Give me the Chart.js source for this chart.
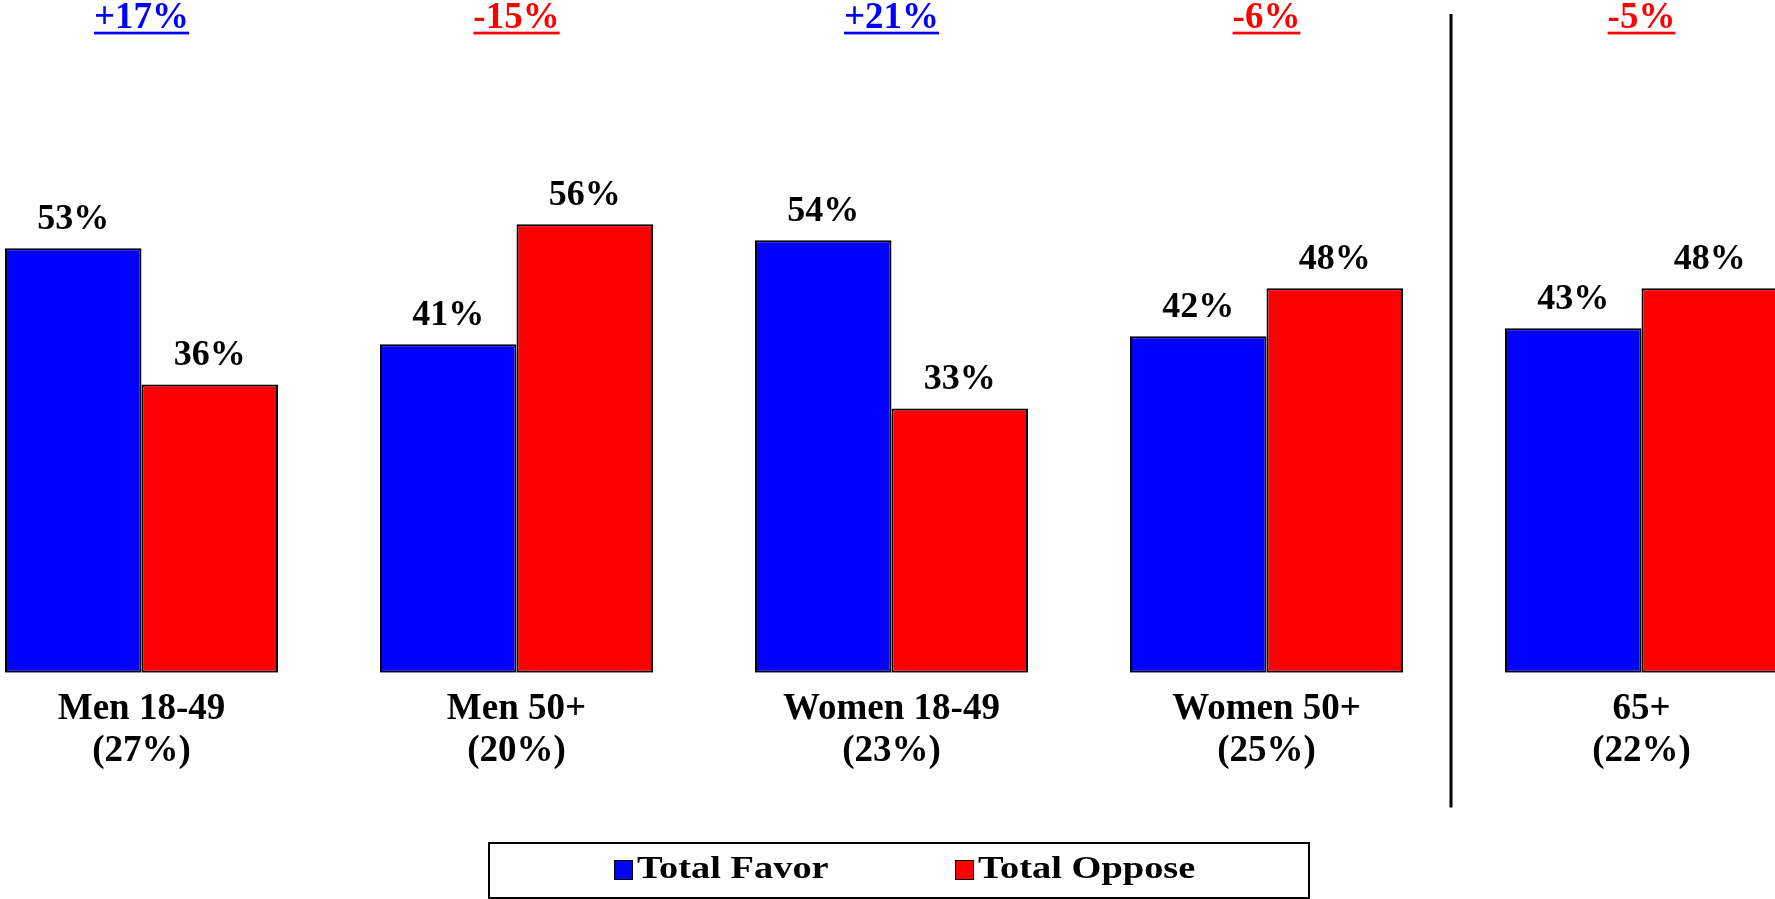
<!DOCTYPE html>
<html lang="en">

<head>
    <meta charset="UTF-8">
    <title>Total Favor vs Total Oppose</title>
    <script src="https://cdn.jsdelivr.net/npm/chart.js"></script>
    <style>
        html, body {
            margin: 0;
            padding: 0;
            width: 1775px;
            height: 899px;
            overflow: hidden;
            background: #ffffff;
        }

        /* canvas is wider than the window: the outer bars are cut off in the original */
        .chart-wrap {
            position: absolute;
            left: -46px;
            top: 0;
            width: 1875px;
            height: 899px;
        }

        #legend {
            position: absolute;
            left: 488px;
            top: 842px;
            width: 822px;
            height: 57px;
            box-sizing: border-box;
            border: 2px solid #000;
            font-family: 'Liberation Serif', 'Times New Roman', serif;
            font-weight: bold;
            font-size: 32px;
        }

        .legend-item {
            position: absolute;
            top: 7px;
            display: flex;
            align-items: flex-start;
            white-space: nowrap;
        }

        .legend-item:nth-child(1) { left: 124px; }
        .legend-item:nth-child(2) { left: 465px; }

        .legend-swatch {
            width: 19px;
            height: 20px;
            box-sizing: border-box;
            border: 1px solid #000;
            margin-top: 9px;
            margin-right: 4px;
        }

        .legend-text {
            display: inline-block;
            line-height: 32px;
            transform: scaleX(1.2);
            transform-origin: 0 50%;
        }
    </style>
</head>

<body>
    <div class="chart-wrap">
        <canvas id="favorChart"></canvas>
    </div>
    <div id="legend"></div>

    <script>
        // data
        const groupNames = ['Men 18-49', 'Men 50+', 'Women 18-49', 'Women 50+', '65+'];
        const groupShares = ['(27%)', '(20%)', '(23%)', '(25%)', '(22%)'];
        const favorValues = [53, 41, 54, 42, 43];
        const opposeValues = [36, 56, 33, 48, 48];
        const netLabels = ['+17%', '-15%', '+21%', '-6%', '-5%'];

        const serif = "'Liberation Serif', 'Times New Roman', serif";

        // value above each bar
        const barValuePlugin = {
            id: 'barValues',
            afterDatasetsDraw(chart) {
                const ctx = chart.ctx;
                ctx.save();
                ctx.font = 'bold 36px ' + serif;
                ctx.fillStyle = '#000';
                ctx.textAlign = 'center';
                ctx.textBaseline = 'alphabetic';
                chart.data.datasets.forEach((ds, i) => {
                    chart.getDatasetMeta(i).data.forEach((bar, j) => {
                        ctx.fillText(ds.data[j] + '%', bar.x, bar.y - 19.5);
                    });
                });
                ctx.restore();
            }
        };

        // underlined net numbers on top + divider before 65+
        const netPlugin = {
            id: 'netLabels',
            afterDraw(chart) {
                const ctx = chart.ctx;
                const xs = chart.scales.x;
                ctx.save();
                ctx.font = 'bold 37px ' + serif;
                ctx.textAlign = 'center';
                ctx.textBaseline = 'alphabetic';
                netLabels.forEach((txt, i) => {
                    const x = xs.getPixelForTick(i);
                    const color = txt.charAt(0) === '-' ? '#ff0000' : '#0000ff';
                    const w = ctx.measureText(txt).width;
                    ctx.fillStyle = color;
                    ctx.fillText(txt, x, 27.5);
                    ctx.fillRect(x - w / 2, 31.7, w, 2.7);
                });

                // vertical separator
                const sx = (xs.getPixelForTick(3) + xs.getPixelForTick(4)) / 2 - 3;
                ctx.strokeStyle = '#000';
                ctx.lineWidth = 3;
                ctx.beginPath();
                ctx.moveTo(sx, 14);
                ctx.lineTo(sx, 807.5);
                ctx.stroke();
                ctx.restore();
            }
        };

        const ctx = document.getElementById('favorChart').getContext('2d');
        const chart = new Chart(ctx, {
            type: 'bar',
            data: {
                labels: groupNames.map((n, i) => [n, groupShares[i]]),
                datasets: [{
                    label: 'Total Favor',
                    data: favorValues,
                    backgroundColor: '#0000ff',
                    borderColor: '#000000',
                    borderWidth: 2,
                    borderSkipped: false
                }, {
                    label: 'Total Oppose',
                    data: opposeValues,
                    backgroundColor: '#ff0000',
                    borderColor: '#000000',
                    borderWidth: 2,
                    borderSkipped: false
                }]
            },
            options: {
                responsive: true,
                maintainAspectRatio: false,
                animation: false,
                layout: { padding: 0 },
                datasets: {
                    bar: {
                        categoryPercentage: 0.728,
                        barPercentage: 1.0
                    }
                },
                scales: {
                    x: {
                        grid: { display: false, drawTicks: false },
                        border: { display: false },
                        ticks: {
                            color: '#000',
                            padding: 15,
                            maxRotation: 0,
                            autoSkip: false,
                            font: { family: serif, size: 37, weight: 'bold', lineHeight: 1.15 }
                        },
                        afterFit(scale) {
                            scale.height = 226.3;
                        }
                    },
                    y: {
                        display: false,
                        min: 0,
                        max: 84
                    }
                },
                plugins: {
                    legend: { display: false },
                    tooltip: { enabled: false }
                }
            },
            plugins: [barValuePlugin, netPlugin]
        });

        // boxed legend under the chart
        const legendBox = document.getElementById('legend');
        chart.data.datasets.forEach(ds => {
            const item = document.createElement('div');
            item.className = 'legend-item';
            const sw = document.createElement('span');
            sw.className = 'legend-swatch';
            sw.style.background = ds.backgroundColor;
            const txt = document.createElement('span');
            txt.className = 'legend-text';
            txt.textContent = ds.label;
            item.appendChild(sw);
            item.appendChild(txt);
            legendBox.appendChild(item);
        });
    </script>
</body>

</html>
